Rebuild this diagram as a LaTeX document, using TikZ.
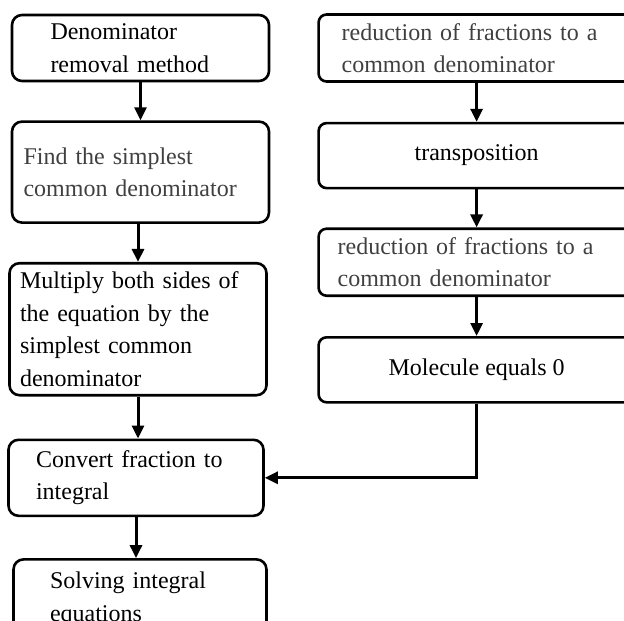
\documentclass[tikz,border=0pt]{standalone}
\usepackage{fontspec}
\setmainfont{Liberation Serif}
\usepackage{xcolor}
\usetikzlibrary{positioning, arrows.meta}
\definecolor{textgray}{RGB}{64,64,64}

\begin{document}
\begin{tikzpicture}[x=1pt, y=1pt,
	leftbox/.style={draw, line width=2.6pt, rounded corners=10pt, minimum width=257pt, inner sep=0pt, align=left, font=\fontsize{24}{32.5}\selectfont},
	rightbox/.style={draw, line width=2.6pt, rounded corners=8pt, minimum width=316pt, inner sep=0pt, font=\fontsize{24}{32.5}\selectfont},
	flow/.style={line width=3pt, -{Triangle[length=13pt, width=12pt]}}
	]
	\useasboundingbox (0,0) rectangle (624,-621);
	\clip (0,0) rectangle (624,-621);
	\node [leftbox, text width=180pt, minimum height=66pt](b1) at (140.5,-48) {Denominator\\removal method};
	\node [leftbox, text width=234pt, minimum height=101pt, text=textgray](b2) [below=38pt of b1] {Find the simplest\\common denominator};
	\node [leftbox, text width=236pt, minimum height=132pt](b3) [below=38pt of b2, xshift=-2.5pt] {Multiply both sides of\\the equation by the\\simplest common\\denominator};
	\node [leftbox, text width=200pt, minimum height=76pt, minimum width=255pt](b4) [below=42pt of b3, xshift=-2pt] {Convert fraction to\\integral};
	\node [leftbox, text width=180pt, minimum height=80pt, minimum width=253pt](b5) [below=41pt of b4, xshift=4pt] {Solving integral\\equations};
	\node [rightbox, text width=270pt, align=left, minimum height=67pt, text=textgray](r1) [right=47pt of b1] {reduction of fractions to a\\common denominator};
	\node [rightbox, align=center, minimum height=65pt](r2) [below=39pt of r1] {transposition};
	\node [rightbox, text width=278pt, align=left, minimum height=67pt, text=textgray](r3) [below=38pt of r2] {reduction of fractions to a\\common denominator};
	\node [rightbox, align=center, minimum height=65pt](r4) [below=39pt of r3] {Molecule equals 0};

	\draw[flow] (b1) -- (b2);
	\draw[flow] (b3.north |- b2.south) -- (b3.north);
	\draw[flow] (b3.south) -- (b3.south |- b4.north);
	\draw[flow] (b4.south) -- (b4.south |- b5.north);
	\draw[flow] (r1) -- (r2);
	\draw[flow] (r2) -- (r3);
	\draw[flow] (r3) -- (r4);
	\draw[flow] (r4.south) |- (b4.east);
\end{tikzpicture}
\end{document}
